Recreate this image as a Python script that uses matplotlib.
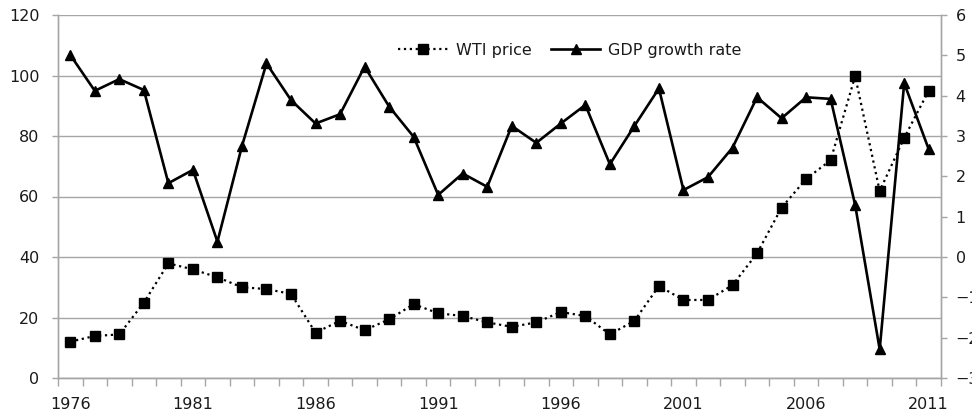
import matplotlib
matplotlib.use("Agg")
import matplotlib.pyplot as plt
from matplotlib.ticker import FixedLocator, NullFormatter

YEARS = list(range(1976, 2012))

WTI_PRICE = [12.0, 13.9, 14.4, 24.9, 37.9, 35.9, 33.3, 30.0, 29.4, 27.8,
             15.0, 18.9, 15.8, 19.4, 24.4, 21.4, 20.5, 18.4, 16.9, 18.4,
             21.8, 20.5, 14.4, 18.9, 30.4, 25.8, 25.8, 30.7, 41.2, 56.3,
             65.8, 72.0, 99.8, 61.8, 79.4, 95.0]

GDP_GROWTH = [5.01, 4.12, 4.41, 4.14, 1.83, 2.16, 0.38, 2.75, 4.80, 3.89,
              3.31, 3.54, 4.72, 3.73, 2.98, 1.54, 2.07, 1.74, 3.25, 2.83,
              3.31, 3.77, 2.30, 3.25, 4.18, 1.66, 1.98, 2.71, 3.96, 3.44,
              3.96, 3.92, 1.29, -2.29, 4.31, 2.67]

LABEL_YEARS = [1976, 1981, 1986, 1991, 1996, 2001, 2006, 2011]
LEFT_TICKS = [0, 20, 40, 60, 80, 100, 120]
RIGHT_TICKS = [-3, -2, -1, 0, 1, 2, 3, 4, 5, 6]

TEXT = "#1a1a1a"
GRAY = "#a6a6a6"
FS = 11.5

plt.rcParams["font.family"] = ["DejaVu Sans"]

fig = plt.figure(figsize=(9.72, 4.17), dpi=100)
ax = fig.add_axes([58 / 972, 39 / 417, (941 - 58) / 972, (378 - 15) / 417])
ax2 = ax.twinx()

wti_line, = ax.plot(YEARS, WTI_PRICE, linestyle=":", color="black", lw=1.6,
                    marker="s", markersize=7, label="WTI price", zorder=3)
gdp_line, = ax2.plot(YEARS, GDP_GROWTH, linestyle="-", color="black", lw=1.9,
                     marker="^", markersize=7, label="GDP growth rate", zorder=3)

ax.set_xlim(1975.5, 2011.5)
ax.set_ylim(0, 120)
ax2.set_ylim(-3, 6)

# category axis: tick marks between years, labels every 5 years
ax.xaxis.set_major_locator(FixedLocator(LABEL_YEARS))
ax.xaxis.set_minor_locator(FixedLocator([y + 0.5 for y in range(1975, 2012)]))
ax.xaxis.set_minor_formatter(NullFormatter())
ax.tick_params(axis="x", which="major", length=0, pad=14, labelsize=FS, labelcolor=TEXT)
ax.tick_params(axis="x", which="minor", length=6, width=1, color=GRAY)

ax.set_yticks(LEFT_TICKS)
ax.tick_params(axis="y", length=4.5, width=1, color=GRAY, pad=9,
               labelsize=FS, labelcolor=TEXT)
ax2.set_yticks(RIGHT_TICKS)
ax2.tick_params(axis="y", length=4.5, width=1, color=GRAY, pad=6,
                labelsize=FS, labelcolor=TEXT)

ax.grid(axis="y", color=GRAY, lw=1)
ax.set_axisbelow(True)

for a in (ax, ax2):
    a.spines["top"].set_visible(False)
    for side in ("left", "right", "bottom"):
        a.spines[side].set_color(GRAY)
        a.spines[side].set_linewidth(1)

ax2.patch.set_visible(False)

leg = ax2.legend(handles=[wti_line, gdp_line], loc="upper center",
                 bbox_to_anchor=(0.58, 0.963), ncol=2, frameon=False,
                 fontsize=FS, handlelength=3.1, columnspacing=1.2,
                 handletextpad=0.5)
for t in leg.get_texts():
    t.set_color(TEXT)

fig.savefig("out.png", dpi=100)
